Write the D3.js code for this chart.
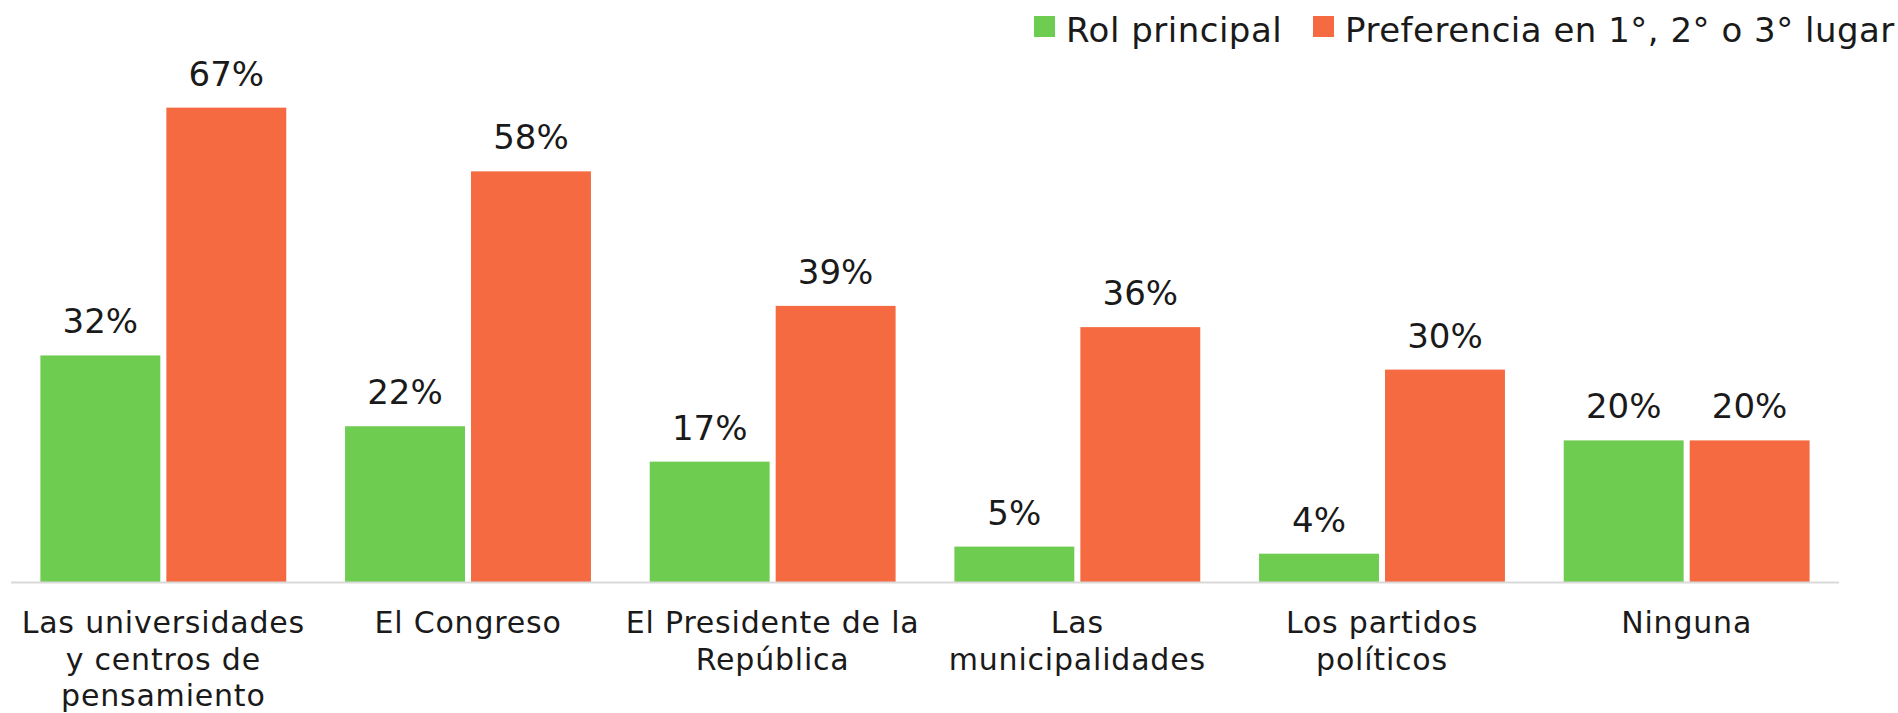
<!DOCTYPE html>
<html>
<head>
<meta charset="utf-8">
<script src="https://cdn.jsdelivr.net/npm/d3@7"></script>
<style>
  body { margin: 0; background: #fff; }
  svg text { font-family: "DejaVu Sans", sans-serif; fill: #1a1a1a; }
</style>
</head>
<body>
<svg id="chart" width="1898" height="713"></svg>
<script>
// data
var categories = [
  ['Las universidades', 'y centros de', 'pensamiento'],
  ['El Congreso'],
  ['El Presidente de la', 'República'],
  ['Las', 'municipalidades'],
  ['Los partidos', 'políticos'],
  ['Ninguna']
];
var seriesNames = ['Rol principal', 'Preferencia en 1°, 2° o 3° lugar'];
var rolPrincipal = [32, 22, 17, 5, 4, 20];
var preferencia = [67, 58, 39, 36, 30, 20];
var colors = ['#6ecc50', '#f56a41'];

var svg = d3.select('#chart');
var baseY = 582;

var x0 = d3.scaleBand()
    .domain(d3.range(categories.length))
    .range([11, 1839])
    .paddingInner(0.193)
    .paddingOuter(0.0965);

var x1 = d3.scaleBand()
    .domain([0, 1])
    .range([0, x0.bandwidth()])
    .paddingInner(0.048);

var y = d3.scaleLinear().domain([0, 80]).range([baseY, baseY - 80 * 7.08]);

var values = [rolPrincipal, preferencia];

var groups = svg.append('g').selectAll('g')
    .data(categories)
    .join('g')
    .attr('transform', function(d, i) { return 'translate(' + x0(i) + ',0)'; });

groups.selectAll('rect')
    .data(function(d, i) { return [0, 1].map(function(s) { return {s: s, v: values[s][i]}; }); })
    .join('rect')
    .attr('x', function(d) { return x1(d.s); })
    .attr('width', x1.bandwidth())
    .attr('y', function(d) { return y(d.v); })
    .attr('height', function(d) { return baseY - y(d.v); })
    .attr('fill', function(d) { return colors[d.s]; });

groups.selectAll('text.val')
    .data(function(d, i) { return [0, 1].map(function(s) { return {s: s, v: values[s][i]}; }); })
    .join('text')
    .attr('class', 'val')
    .attr('x', function(d) { return x1(d.s) + x1.bandwidth() / 2; })
    .attr('y', function(d) { return y(d.v) - 22; })
    .attr('text-anchor', 'middle')
    .style('font-size', '34px')
    .text(function(d) { return d.v + '%'; });

// axis line
svg.append('line')
    .attr('x1', 11).attr('x2', 1839)
    .attr('y1', baseY + 0.5).attr('y2', baseY + 0.5)
    .attr('stroke', '#d9d9d9')
    .attr('stroke-width', 2);

// category labels
var labels = svg.append('g').selectAll('text')
    .data(categories)
    .join('text')
    .attr('text-anchor', 'middle')
    .attr('x', function(d, i) { return x0(i) + x0.bandwidth() / 2; })
    .attr('y', 633)
    .style('font-size', '30px')
    .style('letter-spacing', '0.8px');

labels.selectAll('tspan')
    .data(function(d) { return d; })
    .join('tspan')
    .attr('x', function() { return this.parentNode.getAttribute('x'); })
    .attr('dy', function(d, i) { return i ? 36.5 : 0; })
    .text(function(d) { return d; });

// legend
var legendX = [1034, 1313];
var legend = svg.append('g').selectAll('g')
    .data(seriesNames)
    .join('g')
    .attr('transform', function(d, i) { return 'translate(' + legendX[i] + ',16)'; });

legend.append('rect')
    .attr('width', 21).attr('height', 21)
    .attr('fill', function(d, i) { return colors[i]; });

legend.append('text')
    .attr('x', 32)
    .attr('y', 26)
    .style('font-size', '34px')
    .style('letter-spacing', '0.5px')
    .text(function(d) { return d; });
</script>
</body>
</html>
